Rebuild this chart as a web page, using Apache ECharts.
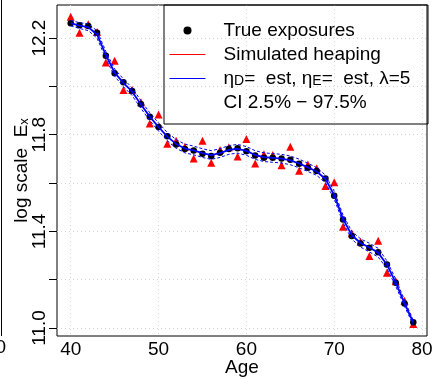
<!DOCTYPE html>
<html>
<head>
<meta charset="utf-8">
<script src="https://cdn.jsdelivr.net/npm/echarts@6/dist/echarts.min.js"></script>
<style>
  html, body { margin: 0; padding: 0; background: #fff; }
  #chart { width: 435px; height: 379px; }
</style>
</head>
<body>
<div id="chart"></div>
<script>
// ages on the x axis
const ages = [40, 41, 42, 43, 44, 45, 46, 47, 48, 49, 50, 51, 52, 53, 54, 55, 56, 57, 58, 59,
  60, 61, 62, 63, 64, 65, 66, 67, 68, 69, 70, 71, 72, 73, 74, 75, 76, 77, 78, 79];

// black dots
const trueExposures = [12.261, 12.253, 12.25, 12.222, 12.127, 12.054, 12.017, 11.981, 11.926, 11.874,
  11.832, 11.794, 11.76, 11.741, 11.735, 11.721, 11.712, 11.725, 11.741, 11.744,
  11.732, 11.714, 11.705, 11.705, 11.702, 11.696, 11.68, 11.663, 11.65, 11.619,
  11.547, 11.449, 11.381, 11.35, 11.332, 11.314, 11.263, 11.187, 11.102, 11.024];

// red triangles
const simulatedHeaping = [12.288, 12.222, 12.257, 12.225, 12.099, 12.106, 11.985, 11.985, 11.935, 11.847,
  11.884, 11.763, 11.775, 11.75, 11.702, 11.775, 11.684, 11.737, 11.748, 11.71,
  11.782, 11.681, 11.719, 11.716, 11.674, 11.75, 11.651, 11.677, 11.661, 11.588,
  11.603, 11.419, 11.392, 11.357, 11.298, 11.361, 11.229, 11.194, 11.113, 11.017];

// blue solid line (estimate)
const estimate = [12.262, 12.252, 12.245, 12.215, 12.13, 12.057, 12.015, 11.978, 11.925, 11.875,
  11.832, 11.792, 11.762, 11.743, 11.735, 11.724, 11.716, 11.724, 11.737, 11.742,
  11.733, 11.716, 11.707, 11.704, 11.701, 11.694, 11.681, 11.665, 11.648, 11.617,
  11.55, 11.452, 11.384, 11.352, 11.333, 11.312, 11.262, 11.188, 11.103, 11.022];

// dashed CI bounds
const ciUpper = [12.273, 12.264, 12.259, 12.23, 12.145, 12.072, 12.031, 11.994, 11.941, 11.891,
  11.849, 11.809, 11.78, 11.761, 11.753, 11.742, 11.734, 11.742, 11.755, 11.76,
  11.751, 11.734, 11.725, 11.722, 11.719, 11.712, 11.699, 11.682, 11.664, 11.633,
  11.566, 11.468, 11.4, 11.369, 11.351, 11.33, 11.278, 11.203, 11.116, 11.032];
const ciLower = [12.251, 12.24, 12.231, 12.2, 12.115, 12.042, 11.999, 11.962, 11.909, 11.859,
  11.815, 11.775, 11.744, 11.725, 11.717, 11.706, 11.698, 11.706, 11.719, 11.724,
  11.715, 11.698, 11.689, 11.686, 11.683, 11.676, 11.663, 11.648, 11.632, 11.601,
  11.534, 11.436, 11.368, 11.335, 11.315, 11.294, 11.246, 11.173, 11.09, 11.012];

// tick labels
const xTicks = [40, 50, 60, 70, 80];
const yTicks = [11.0, 11.2, 11.4, 11.6, 11.8, 12.0, 12.2];
const yLabels = [11.0, 11.4, 11.8, 12.2];

const font = "'Liberation Sans', Arial, sans-serif";
const pairs = (ys) => ages.map((a, i) => [a, ys[i]]);

const chart = echarts.init(document.getElementById("chart"));

const estName = "eta";
const ciName = "CI 2.5% \u2212 97.5%";
const noSymbol = { color: "rgba(0,0,0,0)", borderColor: "rgba(0,0,0,0)", borderWidth: 0 };

const option = {
  animation: false,
  grid: {
    left: 57, right: 8, top: 5, bottom: 43,
    show: true, borderColor: "#000", borderWidth: 1,
    outerBoundsMode: "none",
  },
  xAxis: {
    type: "value",
    min: 38.44, max: 80.56,
    name: "Age", nameLocation: "middle", nameGap: 22, nameMoveOverlap: false,
    nameTextStyle: { fontFamily: font, fontSize: 19, color: "#000" },
    axisLine: { show: false },
    axisTick: { show: false, customValues: xTicks },
    axisLabel: { customValues: xTicks, fontFamily: font, fontSize: 19, color: "#000", margin: 4 },
    splitLine: { show: true, lineStyle: { color: "#d3d3d3", type: [1, 3], width: 1 } },
  },
  yAxis: {
    type: "value",
    min: 10.967, max: 12.337,
    name: "{a|log scale  E}{s|x}", nameLocation: "middle", nameGap: 26, nameRotate: 90,
    nameMoveOverlap: false,
    nameTextStyle: {
      fontFamily: font, fontSize: 19, color: "#000",
      rich: {
        a: { fontFamily: font, fontSize: 19, lineHeight: 19, color: "#000" },
        s: { fontFamily: font, fontSize: 13, lineHeight: 8, verticalAlign: "bottom", color: "#000" },
      },
    },
    axisLine: { show: false },
    axisTick: { show: true, inside: false, length: 8, customValues: yTicks, lineStyle: { color: "#000" } },
    axisLabel: {
      customValues: yLabels, rotate: 90, margin: 8,
      fontFamily: font, fontSize: 19, color: "#000",
      formatter: (v) => v.toFixed(1),
    },
    splitLine: { show: true, lineStyle: { color: "#d3d3d3", type: [1, 3], width: 1 } },
  },
  legend: {
    orient: "vertical",
    left: 164, top: 5,
    padding: [16, 10, 14, 5],
    itemWidth: 36, itemHeight: 8, itemGap: 5,
    selectedMode: false,
    textStyle: {
      fontFamily: font, fontSize: 19, color: "#000", padding: [0, 0, 0, 13],
      rich: {
        a: { fontFamily: font, fontSize: 19, lineHeight: 19, color: "#000" },
        s: { fontFamily: font, fontSize: 14, lineHeight: 3, verticalAlign: "bottom", color: "#000" },
      },
    },
    formatter: (name) => name === estName
      ? "{a|\u03b7}{s|D}{a|=  est, \u03b7}{s|E}{a|=  est, \u03bb=5}"
      : name,
    data: [
      { name: "True exposures", icon: "circle" },
      { name: "Simulated heaping", lineStyle: { width: 1 }, itemStyle: noSymbol },
      { name: estName, lineStyle: { width: 1 }, itemStyle: noSymbol },
      { name: ciName, icon: "none" },
    ],
  },
  graphic: [
    // legend box
    { type: "rect", shape: { x: 164, y: 5, width: 264, height: 119 }, style: { fill: "none", stroke: "#000", lineWidth: 1 }, z: 50 },
    // edge of neighbouring panel
    { type: "line", shape: { x1: 1.5, y1: 0, x2: 1.5, y2: 336 }, style: { stroke: "#000", lineWidth: 1 } },
    { type: "text", x: 6, y: 348, style: { text: "80", font: "19px " + font, fill: "#000", align: "right", verticalAlign: "middle" } },
  ],
  series: [
    {
      name: ciName, type: "line", data: pairs(ciUpper), symbol: "none",
      lineStyle: { color: "#0000ff", width: 1, type: [3, 2] }, itemStyle: { color: "#0000ff" },
    },
    {
      name: ciName, type: "line", data: pairs(ciLower), symbol: "none",
      lineStyle: { color: "#0000ff", width: 1, type: [3, 2] }, itemStyle: { color: "#0000ff" },
    },
    {
      name: estName, type: "line", data: pairs(estimate), symbol: "none",
      lineStyle: { color: "#0000ff", width: 1.8 }, itemStyle: { color: "#0000ff" },
    },
    {
      name: "Simulated heaping", type: "line", data: [], symbol: "none",
      lineStyle: { color: "#ff0000", width: 1 }, itemStyle: { color: "#ff0000" },
    },
    {
      name: "heaping points", type: "scatter", data: pairs(simulatedHeaping),
      symbol: "triangle", symbolSize: 8, itemStyle: { color: "#ff0000", opacity: 1 },
    },
    {
      name: "True exposures", type: "scatter", data: pairs(trueExposures),
      symbol: "circle", symbolSize: 6.5, itemStyle: { color: "#000", opacity: 1 },
    },
  ],
};

chart.setOption(option);
</script>
</body>
</html>
